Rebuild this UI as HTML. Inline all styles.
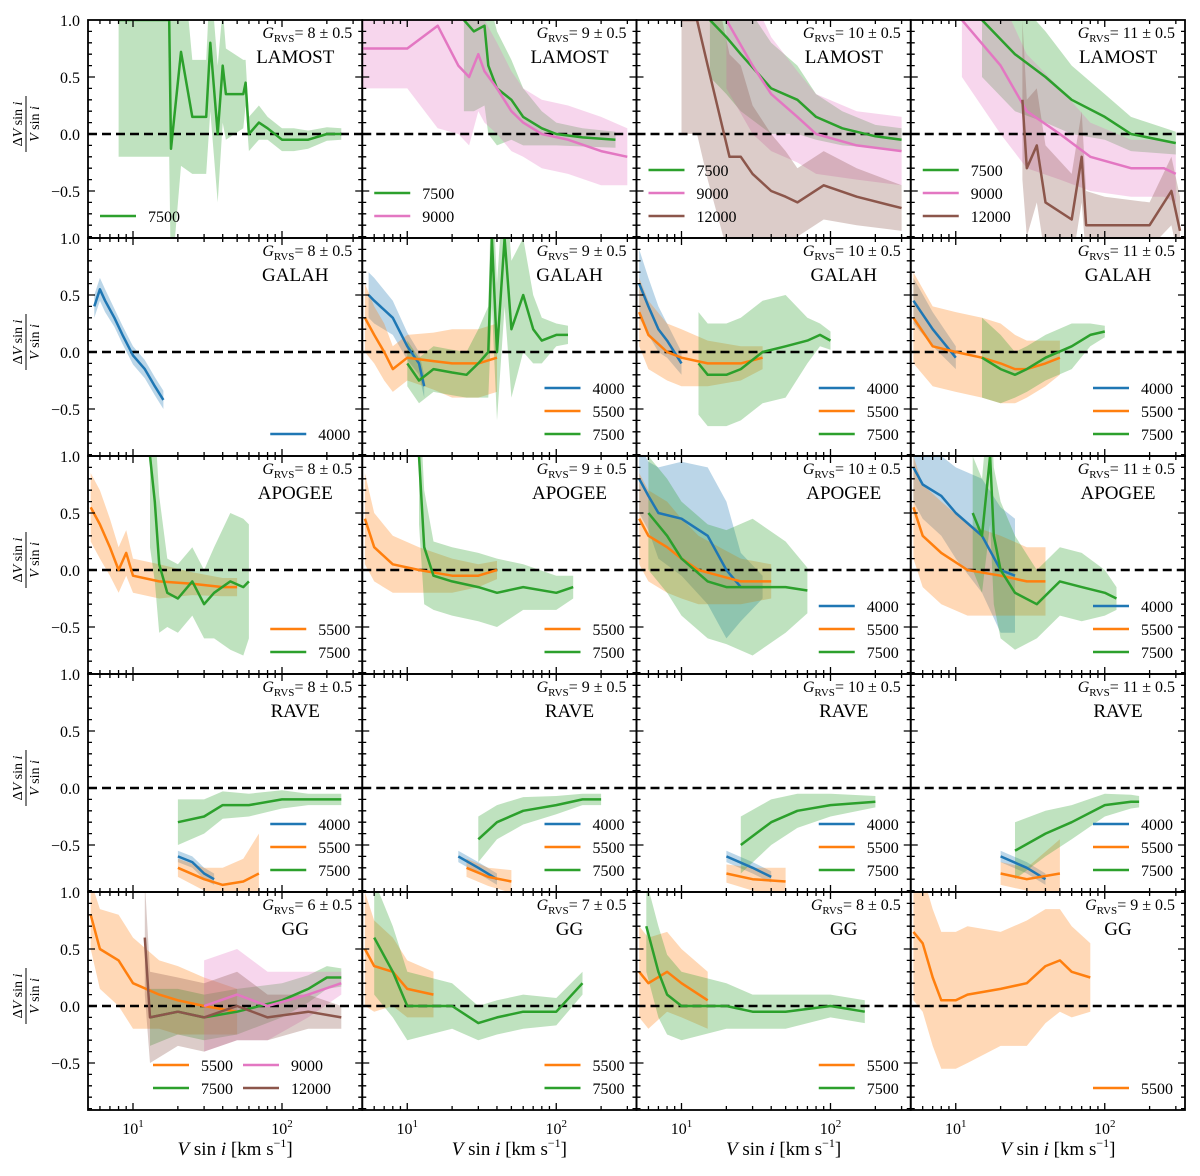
<!DOCTYPE html>
<html><head><meta charset="utf-8">
<style>
html,body{margin:0;padding:0;background:#fff;}
svg{display:block;font-family:"Liberation Serif",serif;}
</style></head>
<body>
<svg id="fig" width="1200" height="1176" viewBox="0 0 1200 1176" xmlns="http://www.w3.org/2000/svg"></svg>
<script>
// ---------- data (vsini km/s, relative difference, band half-width) ----------
// Row 0: LAMOST
const lam8_7500_v=[8,17.5,18,21,25,31,33,37,40,42,55,57,60,70,80,100,120,150,200,250];
const lam8_7500_y=[1.0,1.0,-0.13,0.72,0.15,0.15,0.8,0.0,0.6,0.35,0.35,0.45,0.0,0.1,0.05,-0.05,-0.05,-0.05,0.0,0.0];
const lam8_7500_s=[1.2,1.2,1.2,1.0,0.5,0.5,0.6,0.6,0.5,0.4,0.3,0.2,0.15,0.15,0.1,0.1,0.1,0.08,0.06,0.05];
const lam9_7500_v=[24,28,33,35,40,50,60,80,100,150,250];
const lam9_7500_y=[1.0,0.9,0.95,0.6,0.4,0.3,0.15,0.05,0.0,-0.03,-0.05];
const lam9_7500_s=[0.8,0.7,0.7,0.6,0.5,0.35,0.25,0.15,0.1,0.08,0.07];
const lam9_9000_v=[5,10,16,22,26,30,33,40,50,60,80,120,200,300];
const lam9_9000_y=[0.75,0.75,0.95,0.6,0.5,0.7,0.55,0.4,0.2,0.1,0.0,-0.05,-0.15,-0.2];
const lam9_9000_s=[0.35,0.35,0.9,0.6,0.6,0.5,0.45,0.4,0.35,0.3,0.3,0.3,0.3,0.25];
const lam10_7500_v=[15.5,20,25,40,60,80,120,200,300];
const lam10_7500_y=[1.0,0.85,0.7,0.4,0.3,0.15,0.05,-0.02,-0.05];
const lam10_7500_s=[0.5,0.5,0.5,0.4,0.3,0.2,0.15,0.1,0.1];
const lam10_9000_v=[20,30,40,60,80,150,300];
const lam10_9000_y=[1.0,0.6,0.35,0.15,0.0,-0.1,-0.15];
const lam10_9000_s=[0.6,0.6,0.5,0.4,0.35,0.3,0.3];
const lam10_12000_v=[10,12.7,15,21,25,30,40,50,60,90,150,300];
const lam10_12000_y=[1.0,1.0,0.6,-0.2,-0.2,-0.35,-0.5,-0.55,-0.6,-0.45,-0.55,-0.65];
const lam10_12000_s=[1.0,1.0,1.0,0.9,0.8,0.6,0.5,0.4,0.3,0.3,0.25,0.2];
const lam11_7500_v=[15,25,40,60,100,150,300];
const lam11_7500_y=[1.0,0.7,0.5,0.3,0.15,0.0,-0.08];
const lam11_7500_s=[0.5,0.5,0.4,0.3,0.2,0.15,0.1];
const lam11_9000_v=[11,20,30,50,80,150,250,300];
const lam11_9000_y=[1.0,0.6,0.2,0.0,-0.2,-0.3,-0.3,-0.35];
const lam11_9000_s=[0.5,0.6,0.5,0.4,0.3,0.25,0.25,0.25];
const lam11_12000_v=[28,30,35,40,60,70,75,100,200,280,320];
const lam11_12000_y=[0.3,-0.3,-0.1,-0.6,-0.75,-0.2,-0.8,-0.8,-0.8,-0.5,-0.85];
const lam11_12000_s=[0.7,0.6,0.5,0.5,0.4,0.4,0.3,0.25,0.2,0.3,0.3];
// Row 1: GALAH
const gal8_4000_v=[5.5,6,6.5,7.5,8.5,10,12,14,16];
const gal8_4000_y=[0.4,0.55,0.45,0.3,0.15,-0.03,-0.15,-0.3,-0.42];
const gal8_4000_s=[0.1,0.1,0.1,0.08,0.08,0.08,0.08,0.08,0.08];
const gal9_4000_v=[5.5,6,8,10,12,13];
const gal9_4000_y=[0.5,0.45,0.3,0.05,-0.1,-0.3];
const gal9_4000_s=[0.2,0.2,0.15,0.12,0.1,0.1];
const gal9_5500_v=[5.2,6,7,8,10,15,20,30,40];
const gal9_5500_y=[0.3,0.15,0.0,-0.15,-0.05,-0.08,-0.1,-0.1,-0.05];
const gal9_5500_s=[0.3,0.25,0.25,0.2,0.2,0.25,0.3,0.3,0.3];
const gal9_7500_v=[10,12,15,20,25,30,35,37,40,45,50,60,70,80,100,120];
const gal9_7500_y=[-0.1,-0.25,-0.15,-0.18,-0.2,-0.1,0.0,1.0,0.0,1.0,0.2,0.5,0.2,0.1,0.15,0.15];
const gal9_7500_s=[0.2,0.2,0.2,0.2,0.2,0.3,0.4,0.6,0.6,0.6,0.6,0.5,0.3,0.2,0.1,0.08];
const gal10_4000_v=[5.2,6,7,8,10];
const gal10_4000_y=[0.6,0.4,0.2,0.1,-0.1];
const gal10_4000_s=[0.3,0.25,0.2,0.15,0.1];
const gal10_5500_v=[5.2,6,8,10,15,25,35];
const gal10_5500_y=[0.35,0.15,0.0,-0.05,-0.1,-0.1,-0.05];
const gal10_5500_s=[0.3,0.3,0.25,0.25,0.2,0.15,0.1];
const gal10_7500_v=[13,15,20,25,35,50,70,85,100];
const gal10_7500_y=[-0.1,-0.2,-0.2,-0.15,0.0,0.05,0.1,0.15,0.1];
const gal10_7500_s=[0.45,0.45,0.45,0.45,0.45,0.45,0.2,0.1,0.08];
const gal11_4000_v=[5.2,7,10];
const gal11_4000_y=[0.45,0.2,-0.05];
const gal11_4000_s=[0.2,0.15,0.1];
const gal11_5500_v=[5.2,7,10,15,20,25,30,40,50];
const gal11_5500_y=[0.3,0.05,0.0,-0.05,-0.1,-0.15,-0.15,-0.1,-0.05];
const gal11_5500_s=[0.4,0.35,0.35,0.35,0.35,0.3,0.25,0.2,0.15];
const gal11_7500_v=[15,20,25,30,40,60,80,100];
const gal11_7500_y=[-0.05,-0.15,-0.2,-0.15,-0.05,0.05,0.15,0.18];
const gal11_7500_s=[0.35,0.3,0.2,0.2,0.2,0.2,0.1,0.05];
// Row 2: APOGEE
const apo8_5500_v=[5.2,6,7,8,9,10,15,25,40,50];
const apo8_5500_y=[0.55,0.4,0.2,0.0,0.15,-0.05,-0.1,-0.12,-0.15,-0.15];
const apo8_5500_s=[0.3,0.3,0.25,0.2,0.2,0.15,0.15,0.1,0.08,0.08];
const apo8_7500_v=[13,14,15,17,20,25,30,35,45,55,60];
const apo8_7500_y=[1.0,0.6,0.05,-0.2,-0.25,-0.1,-0.3,-0.2,-0.1,-0.15,-0.1];
const apo8_7500_s=[0.8,0.7,0.6,0.3,0.3,0.3,0.3,0.4,0.6,0.6,0.5];
const apo9_5500_v=[5.2,6,8,12,20,30,40];
const apo9_5500_y=[0.45,0.2,0.05,0.0,-0.05,-0.05,0.0];
const apo9_5500_s=[0.4,0.3,0.25,0.2,0.15,0.1,0.08];
const apo9_7500_v=[12,13,15,20,30,40,60,100,130];
const apo9_7500_y=[1.0,0.2,-0.05,-0.1,-0.15,-0.2,-0.15,-0.2,-0.15];
const apo9_7500_s=[0.6,0.5,0.3,0.3,0.3,0.3,0.2,0.15,0.1];
const apo10_4000_v=[5.2,6,7,10,15,20,25,35];
const apo10_4000_y=[0.8,0.65,0.5,0.45,0.3,0.0,-0.15,-0.15];
const apo10_4000_s=[0.3,0.3,0.4,0.5,0.6,0.6,0.3,0.1];
const apo10_5500_v=[5.2,6,8,10,13,18,25,40];
const apo10_5500_y=[0.45,0.3,0.2,0.1,0.0,-0.05,-0.1,-0.1];
const apo10_5500_s=[0.4,0.4,0.4,0.35,0.3,0.25,0.2,0.15];
const apo10_7500_v=[6,8,10,15,20,30,50,70];
const apo10_7500_y=[0.5,0.3,0.1,-0.1,-0.15,-0.15,-0.15,-0.18];
const apo10_7500_s=[0.5,0.5,0.5,0.5,0.5,0.6,0.4,0.2];
const apo11_4000_v=[5.2,6,8,10,15,20,25];
const apo11_4000_y=[0.9,0.75,0.65,0.5,0.3,0.0,-0.05];
const apo11_4000_s=[0.3,0.3,0.35,0.4,0.5,0.55,0.5];
const apo11_5500_v=[5.2,6,8,12,20,30,40];
const apo11_5500_y=[0.55,0.3,0.15,0.0,-0.05,-0.1,-0.1];
const apo11_5500_s=[0.45,0.45,0.45,0.4,0.35,0.3,0.3];
const apo11_7500_v=[13,15,17,18,20,25,35,50,70,100,120];
const apo11_7500_y=[0.5,0.3,1.0,0.3,0.0,-0.2,-0.3,-0.1,-0.15,-0.2,-0.25];
const apo11_7500_s=[0.5,0.5,0.6,0.6,0.6,0.5,0.3,0.3,0.3,0.2,0.1];
// Row 3: RAVE
const rav8_4000_v=[20,25,30,35];
const rav8_4000_y=[-0.6,-0.65,-0.75,-0.8];
const rav8_4000_s=[0.05,0.05,0.05,0.05];
const rav8_5500_v=[20,30,40,55,70];
const rav8_5500_y=[-0.7,-0.8,-0.85,-0.82,-0.75];
const rav8_5500_s=[0.08,0.1,0.15,0.2,0.35];
const rav8_7500_v=[20,30,40,60,100,150,250];
const rav8_7500_y=[-0.3,-0.25,-0.15,-0.15,-0.1,-0.1,-0.1];
const rav8_7500_s=[0.2,0.15,0.12,0.1,0.08,0.05,0.05];
const rav9_4000_v=[22,30,40];
const rav9_4000_y=[-0.6,-0.7,-0.8];
const rav9_4000_s=[0.05,0.05,0.05];
const rav9_5500_v=[25,35,50];
const rav9_5500_y=[-0.7,-0.78,-0.82];
const rav9_5500_s=[0.08,0.08,0.1];
const rav9_7500_v=[30,40,60,100,150,200];
const rav9_7500_y=[-0.45,-0.3,-0.2,-0.15,-0.1,-0.1];
const rav9_7500_s=[0.2,0.15,0.12,0.08,0.05,0.05];
const rav10_4000_v=[20,30,40];
const rav10_4000_y=[-0.6,-0.7,-0.78];
const rav10_4000_s=[0.05,0.05,0.05];
const rav10_5500_v=[20,30,50];
const rav10_5500_y=[-0.75,-0.8,-0.82];
const rav10_5500_s=[0.08,0.1,0.12];
const rav10_7500_v=[25,40,60,100,200];
const rav10_7500_y=[-0.5,-0.3,-0.2,-0.15,-0.12];
const rav10_7500_s=[0.25,0.2,0.15,0.1,0.05];
const rav11_4000_v=[20,30,40];
const rav11_4000_y=[-0.6,-0.7,-0.8];
const rav11_4000_s=[0.05,0.05,0.05];
const rav11_5500_v=[20,30,50];
const rav11_5500_y=[-0.75,-0.8,-0.75];
const rav11_5500_s=[0.1,0.1,0.3];
const rav11_7500_v=[25,40,60,100,150,170];
const rav11_7500_y=[-0.55,-0.4,-0.3,-0.15,-0.12,-0.12];
const rav11_7500_s=[0.25,0.2,0.15,0.1,0.06,0.05];
// Row 4: GG
const gg6_5500_v=[5.2,6,8,10,15,20,30,50];
const gg6_5500_y=[0.8,0.5,0.4,0.2,0.1,0.05,0.0,-0.05];
const gg6_5500_s=[0.3,0.35,0.4,0.4,0.3,0.3,0.25,0.2];
const gg6_7500_v=[13,20,30,50,100,150,200,250];
const gg6_7500_y=[-0.1,-0.05,-0.1,-0.05,0.05,0.15,0.25,0.25];
const gg6_7500_s=[0.25,0.2,0.2,0.2,0.15,0.12,0.1,0.08];
const gg6_9000_v=[30,50,80,150,250];
const gg6_9000_y=[0.0,0.1,0.0,0.1,0.2];
const gg6_9000_s=[0.4,0.4,0.3,0.2,0.1];
const gg6_12000_v=[12,13,20,30,50,80,150,250];
const gg6_12000_y=[0.6,-0.1,-0.05,-0.1,0.0,-0.1,-0.05,-0.1];
const gg6_12000_s=[0.5,0.4,0.3,0.3,0.3,0.2,0.15,0.1];
const gg7_5500_v=[5.2,6,8,10,15];
const gg7_5500_y=[0.5,0.35,0.3,0.15,0.1];
const gg7_5500_s=[0.5,0.4,0.3,0.25,0.2];
const gg7_7500_v=[6,8,10,20,30,40,60,100,150];
const gg7_7500_y=[0.6,0.3,0.0,0.0,-0.15,-0.1,-0.05,-0.05,0.2];
const gg7_7500_s=[0.5,0.4,0.3,0.2,0.15,0.15,0.15,0.12,0.1];
const gg8_5500_v=[5.2,6,8,10,15];
const gg8_5500_y=[0.3,0.2,0.3,0.2,0.05];
const gg8_5500_s=[0.4,0.4,0.35,0.3,0.25];
const gg8_7500_v=[5.8,7,8,10,20,30,50,100,170];
const gg8_7500_y=[0.7,0.3,0.1,0.0,0.0,-0.05,-0.05,0.0,-0.05];
const gg8_7500_s=[0.4,0.4,0.35,0.3,0.2,0.15,0.15,0.1,0.1];
const gg9_5500_v=[5.2,6,7,8,10,12,20,30,40,50,60,80];
const gg9_5500_y=[0.65,0.55,0.25,0.05,0.05,0.1,0.15,0.2,0.35,0.4,0.3,0.25];
const gg9_5500_s=[0.6,0.6,0.6,0.6,0.6,0.6,0.5,0.55,0.5,0.45,0.4,0.3];

const C={4000:"#1f77b4",5500:"#ff7f0e",7500:"#2ca02c",9000:"#e377c2",12000:"#8c564b"};
const rowNames=["LAMOST","GALAH","APOGEE","RAVE","GG"];
const gVals=[[8,9,10,11],[8,9,10,11],[8,9,10,11],[8,9,10,11],[6,7,8,9]];
function S(t,v,y,s){return {t:t,v:v,y:y,s:s};}
const panels=[
 [[S(7500,lam8_7500_v,lam8_7500_y,lam8_7500_s)],
  [S(7500,lam9_7500_v,lam9_7500_y,lam9_7500_s),S(9000,lam9_9000_v,lam9_9000_y,lam9_9000_s)],
  [S(7500,lam10_7500_v,lam10_7500_y,lam10_7500_s),S(9000,lam10_9000_v,lam10_9000_y,lam10_9000_s),S(12000,lam10_12000_v,lam10_12000_y,lam10_12000_s)],
  [S(7500,lam11_7500_v,lam11_7500_y,lam11_7500_s),S(9000,lam11_9000_v,lam11_9000_y,lam11_9000_s),S(12000,lam11_12000_v,lam11_12000_y,lam11_12000_s)]],
 [[S(4000,gal8_4000_v,gal8_4000_y,gal8_4000_s)],
  [S(4000,gal9_4000_v,gal9_4000_y,gal9_4000_s),S(5500,gal9_5500_v,gal9_5500_y,gal9_5500_s),S(7500,gal9_7500_v,gal9_7500_y,gal9_7500_s)],
  [S(4000,gal10_4000_v,gal10_4000_y,gal10_4000_s),S(5500,gal10_5500_v,gal10_5500_y,gal10_5500_s),S(7500,gal10_7500_v,gal10_7500_y,gal10_7500_s)],
  [S(4000,gal11_4000_v,gal11_4000_y,gal11_4000_s),S(5500,gal11_5500_v,gal11_5500_y,gal11_5500_s),S(7500,gal11_7500_v,gal11_7500_y,gal11_7500_s)]],
 [[S(5500,apo8_5500_v,apo8_5500_y,apo8_5500_s),S(7500,apo8_7500_v,apo8_7500_y,apo8_7500_s)],
  [S(5500,apo9_5500_v,apo9_5500_y,apo9_5500_s),S(7500,apo9_7500_v,apo9_7500_y,apo9_7500_s)],
  [S(4000,apo10_4000_v,apo10_4000_y,apo10_4000_s),S(5500,apo10_5500_v,apo10_5500_y,apo10_5500_s),S(7500,apo10_7500_v,apo10_7500_y,apo10_7500_s)],
  [S(4000,apo11_4000_v,apo11_4000_y,apo11_4000_s),S(5500,apo11_5500_v,apo11_5500_y,apo11_5500_s),S(7500,apo11_7500_v,apo11_7500_y,apo11_7500_s)]],
 [[S(4000,rav8_4000_v,rav8_4000_y,rav8_4000_s),S(5500,rav8_5500_v,rav8_5500_y,rav8_5500_s),S(7500,rav8_7500_v,rav8_7500_y,rav8_7500_s)],
  [S(4000,rav9_4000_v,rav9_4000_y,rav9_4000_s),S(5500,rav9_5500_v,rav9_5500_y,rav9_5500_s),S(7500,rav9_7500_v,rav9_7500_y,rav9_7500_s)],
  [S(4000,rav10_4000_v,rav10_4000_y,rav10_4000_s),S(5500,rav10_5500_v,rav10_5500_y,rav10_5500_s),S(7500,rav10_7500_v,rav10_7500_y,rav10_7500_s)],
  [S(4000,rav11_4000_v,rav11_4000_y,rav11_4000_s),S(5500,rav11_5500_v,rav11_5500_y,rav11_5500_s),S(7500,rav11_7500_v,rav11_7500_y,rav11_7500_s)]],
 [[S(5500,gg6_5500_v,gg6_5500_y,gg6_5500_s),S(7500,gg6_7500_v,gg6_7500_y,gg6_7500_s),S(9000,gg6_9000_v,gg6_9000_y,gg6_9000_s),S(12000,gg6_12000_v,gg6_12000_y,gg6_12000_s)],
  [S(5500,gg7_5500_v,gg7_5500_y,gg7_5500_s),S(7500,gg7_7500_v,gg7_7500_y,gg7_7500_s)],
  [S(5500,gg8_5500_v,gg8_5500_y,gg8_5500_s),S(7500,gg8_7500_v,gg8_7500_y,gg8_7500_s)],
  [S(5500,gg9_5500_v,gg9_5500_y,gg9_5500_s)]]
];
const yTicks=[1.0,0.5,0.0,-0.5];
const yTickLabels=["1.0","0.5","0.0","\u22120.5"];

// ---------- geometry ----------
const L=88,T=20,PW=274.25,PH=218,DEC=149,Y1=114;
const svg=document.getElementById('fig');
const NS="http://www.w3.org/2000/svg";
function el(tag,attrs,parent){const e=document.createElementNS(NS,tag);for(const k in attrs)e.setAttribute(k,attrs[k]);(parent||svg).appendChild(e);return e;}
function px(c,v){return L+c*PW+45+(Math.log10(v)-1)*DEC;}
function py(r,val){return T+r*PH+(1-val)*Y1;}
const defs=el('defs',{});

for(let r=0;r<5;r++){for(let c=0;c<4;c++){
  const x0=L+c*PW,y0=T+r*PH;
  const g=el('g',{});
  
  
  const cp=el('clipPath',{id:'cp'+r+c},defs);
  el('rect',{x:x0,y:y0,width:PW,height:PH},cp);
  const plot=el('g',{'clip-path':'url(#cp'+r+c+')'},g);
  const ser=panels[r][c];
  ser.forEach(s=>{
    let up=[],dn=[];
    for(let i=0;i<s.v.length;i++){up.push(px(c,s.v[i]).toFixed(1)+','+py(r,s.y[i]+s.s[i]).toFixed(1));dn.unshift(px(c,s.v[i]).toFixed(1)+','+py(r,s.y[i]-s.s[i]).toFixed(1));}
    const b=el('polygon',{points:up.concat(dn).join(' '),fill:C[s.t],'fill-opacity':0.3,stroke:'none'},plot);
    
    
  });
  const z=el('line',{x1:x0,x2:x0+PW,y1:py(r,0),y2:py(r,0),stroke:'#000','stroke-width':2.4,'stroke-dasharray':'9,5'},plot);
  
  
  ser.forEach(s=>{
    const pts=s.v.map((v,i)=>px(c,v).toFixed(1)+','+py(r,s.y[i]).toFixed(1)).join(' ');
    const l=el('polyline',{points:pts,fill:'none',stroke:C[s.t],'stroke-width':2.5,'stroke-linejoin':'round'},plot);
    
    
  });
  let tk='';
  for(let d=0;d<3;d++)for(let m=1;m<10;m++){const v=m*Math.pow(10,d);const xx=px(c,v);if(xx<x0+1||xx>x0+PW-1)continue;const len=m==1?7:4;tk+=`M${xx},${y0}v${len}M${xx},${y0+PH}v${-len}`;}
  for(let k=-9;k<=10;k++){const val=k/10;const yy=py(r,val);if(yy<y0+1||yy>y0+PH-1)continue;const len=(k%5==0)?7:4;tk+=`M${x0},${yy}h${len}M${x0+PW},${yy}h${-len}`;}
  el('path',{d:tk,stroke:'#000','stroke-width':1.3,fill:'none'},g);
  const fr=el('rect',{x:x0,y:y0,width:PW,height:PH,fill:'none',stroke:'#000','stroke-width':1.8},g);
  
  
  const t1=el('text',{x:x0+PW-10,y:y0+18,'text-anchor':'end','font-size':16},g);
  t1.innerHTML='<tspan font-style="italic">G</tspan><tspan font-size="11" dy="4">RVS</tspan><tspan dy="-4">= '+gVals[r][c]+' \u00b1 0.5</tspan>';
  
  
  const t2=el('text',{x:x0+PW-67,y:y0+43,'text-anchor':'middle','font-size':19},g);
  t2.textContent=rowNames[r];
  
  
  const n=ser.length;
  ser.forEach((s,i)=>{
    let lx,ly;
    if(r==0){lx=x0+12;ly=y0+PH-22-(n-1-i)*23;}
    else if(r==4&&c==0){lx=x0+65+(i>=2?90:0);ly=y0+PH-45+(i%2)*23;}
    else {lx=x0+PW-92;ly=y0+PH-22-(n-1-i)*23;}
    const lg=el('g',{},g);
    
    
    el('line',{x1:lx,x2:lx+36,y1:ly,y2:ly,stroke:C[s.t],'stroke-width':2.6},lg);
    const tt=el('text',{x:lx+48,y:ly+6,'font-size':16},lg);
    tt.textContent=s.t;
  });
  if(c==0){yTicks.forEach((v,i)=>{const t=el('text',{x:x0-8,y:py(r,v)+6,'text-anchor':'end','font-size':16},g);t.textContent=yTickLabels[i];
    
    });
    const yl=el('g',{transform:`translate(26,${y0+104}) rotate(-90)`},g);
    
    
    el('text',{x:0,y:-4,'text-anchor':'middle','font-size':14},yl).innerHTML='\u0394<tspan font-style="italic">V</tspan> sin <tspan font-style="italic">i</tspan>';
    el('line',{x1:-28,x2:28,y1:0,y2:0,stroke:'#000','stroke-width':1},yl);
    el('text',{x:0,y:13,'text-anchor':'middle','font-size':14},yl).innerHTML='<tspan font-style="italic">V</tspan> sin <tspan font-style="italic">i</tspan>';
  }
  if(r==4){
    [10,100].forEach((v,i)=>{const t=el('text',{x:px(c,v),y:y0+PH+24,'text-anchor':'middle','font-size':16},g);t.innerHTML='10<tspan font-size="11" dy="-7">'+(i+1)+'</tspan>';
      
      });
    const xl=el('text',{x:x0+PW/2+10,y:y0+PH+45,'text-anchor':'middle','font-size':19},g);
    xl.innerHTML='<tspan font-style="italic">V</tspan> sin <tspan font-style="italic">i</tspan> [km s<tspan font-size="12" dy="-8">\u22121</tspan><tspan dy="8">]</tspan>';
    
    
  }
}}
</script>
</body></html>
